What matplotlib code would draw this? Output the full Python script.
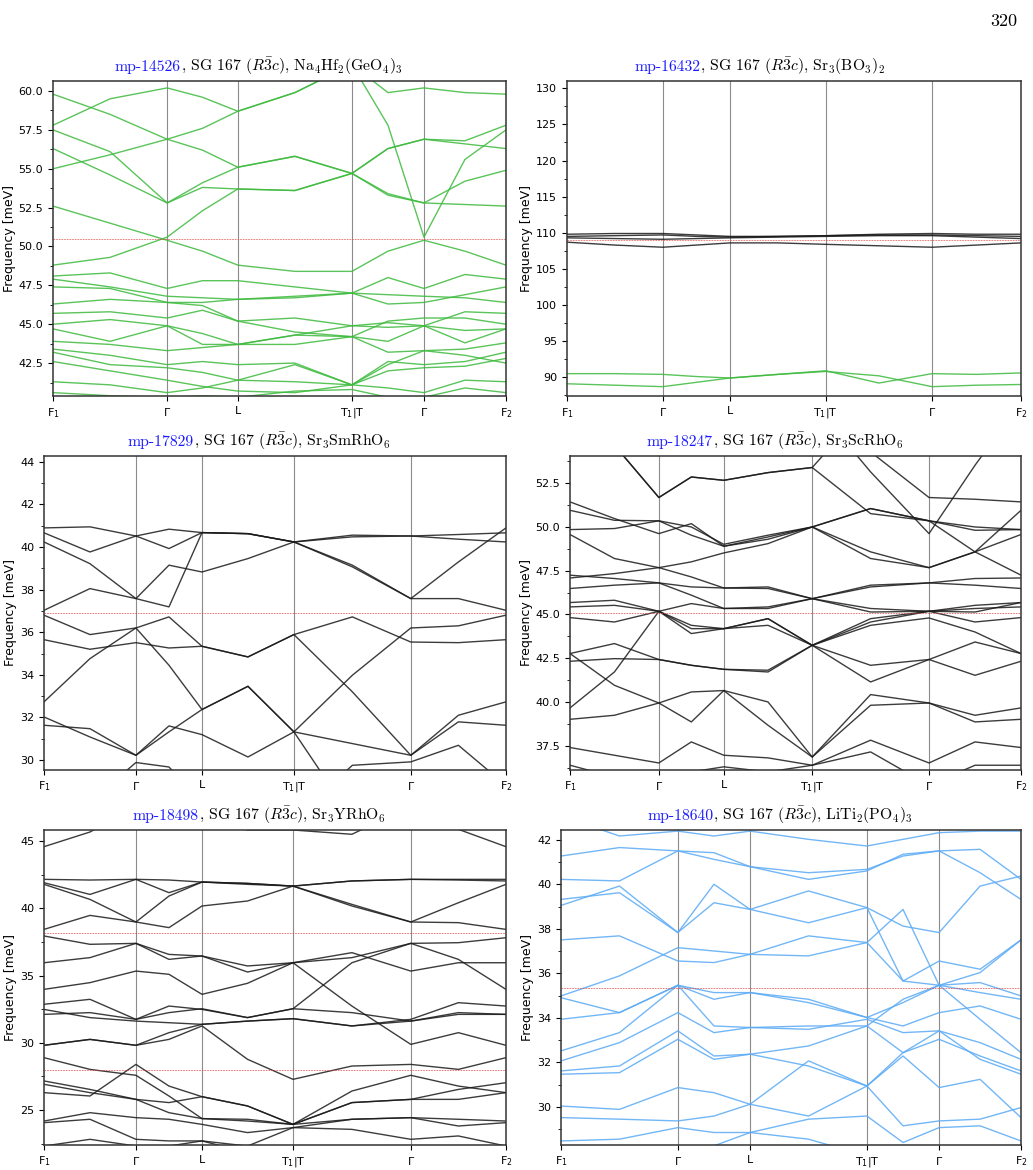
import matplotlib
matplotlib.use('Agg')
import matplotlib.pyplot as plt
from matplotlib.ticker import MultipleLocator, AutoMinorLocator
from matplotlib.offsetbox import TextArea, HPacker, AnchoredOffsetbox

# ---------------- data ----------------
tick_labels = [r'$\mathrm{F_1}$', r'$\Gamma$', 'L', r'$\mathrm{T_1|T}$', r'$\Gamma$', r'$\mathrm{F_2}$']

# high-symmetry positions (fraction of path) for each panel
hs1 = [0, 0.252, 0.408, 0.660, 0.819, 1]
hs2 = [0, 0.211, 0.359, 0.570, 0.804, 1]
hs3 = [0, 0.199, 0.342, 0.541, 0.794, 1]
hs4 = [0, 0.197, 0.341, 0.537, 0.796, 1]
hs5 = [0, 0.199, 0.342, 0.539, 0.794, 1]
hs6 = [0, 0.254, 0.411, 0.665, 0.822, 1]

# bands sampled at: F1, mid, G, mid, L, mid, T, mid, G, mid, F2
bands1 = [
    [57.8, 59.5, 60.2, 59.6, 58.7, 59.9, 61.7, 59.9, 60.2, 59.9, 59.8],
    [59.8, 58.5, 56.9, 57.6, 58.7, 59.9, 61.7, 57.8, 50.6, 55.6, 57.5],
    [57.5, 56.1, 52.8, 54.1, 55.1, 55.8, 54.7, 56.3, 56.9, 56.8, 57.8],
    [56.3, 54.6, 52.8, 53.8, 53.7, 53.6, 54.7, 53.3, 52.8, 52.7, 52.6],
    [55.0, 55.9, 56.9, 56.2, 55.1, 55.8, 54.7, 53.4, 52.8, 54.2, 54.9],
    [52.6, 51.5, 50.4, 49.7, 48.8, 48.4, 48.4, 49.7, 50.4, 49.7, 48.8],
    [48.8, 49.3, 50.6, 52.3, 53.7, 53.6, 54.7, 56.3, 56.9, 56.6, 56.3],
    [48.1, 48.3, 47.3, 47.8, 47.8, 47.4, 47.0, 48.0, 47.3, 48.2, 47.9],
    [47.9, 47.4, 46.8, 46.7, 46.6, 46.8, 47.0, 46.3, 46.4, 46.9, 47.4],
    [47.4, 47.3, 46.4, 46.4, 46.6, 46.7, 47.0, 46.9, 46.8, 46.7, 46.4],
    [46.3, 46.6, 46.4, 46.2, 45.2, 45.4, 44.9, 45.1, 44.9, 45.8, 45.7],
    [45.7, 45.8, 45.4, 45.9, 45.2, 44.5, 44.2, 45.2, 45.4, 45.4, 45.0],
    [45.0, 45.3, 44.9, 44.4, 43.7, 44.3, 44.9, 44.8, 44.9, 44.6, 44.7],
    [44.7, 43.9, 44.9, 43.7, 43.7, 44.3, 44.2, 43.9, 44.9, 43.8, 44.7],
    [43.9, 43.7, 43.3, 43.5, 43.7, 43.7, 44.2, 43.2, 43.3, 43.4, 43.8],
    [43.4, 43.0, 42.4, 42.6, 42.4, 42.5, 41.1, 42.6, 42.4, 42.6, 43.2],
    [43.2, 42.4, 42.2, 41.9, 41.4, 41.3, 41.1, 42.0, 42.2, 42.3, 42.8],
    [42.6, 42.0, 41.4, 41.0, 40.7, 40.6, 41.1, 42.4, 43.3, 43.0, 42.5],
    [41.3, 41.1, 40.6, 40.9, 41.4, 42.4, 41.1, 40.9, 40.6, 41.4, 41.3],
    [40.6, 40.4, 40.3, 40.4, 40.3, 40.7, 40.8, 40.3, 40.3, 40.9, 40.6],
]

bands2_dark = [
    [109.8, 109.9, 109.9, 109.7, 109.5, 109.5, 109.6, 109.8, 109.9, 109.8, 109.8],
    [109.5, 109.6, 109.7, 109.5, 109.4, 109.5, 109.6, 109.7, 109.7, 109.6, 109.5],
    [109.3, 109.2, 109.1, 109.2, 109.3, 109.4, 109.5, 109.6, 109.6, 109.4, 109.2],
    [108.7, 108.3, 108.0, 108.3, 108.6, 108.6, 108.4, 108.2, 108.0, 108.3, 108.6],
]
bands2_green = [
    [90.5, 90.5, 90.4, 90.1, 89.9, 90.4, 90.9, 89.2, 90.5, 90.4, 90.6],
    [89.1, 88.9, 88.7, 89.3, 89.9, 90.4, 90.8, 90.2, 88.7, 88.9, 89.0],
]

bands3 = [
    [40.90, 40.95, 40.52, 40.84, 40.68, 40.63, 40.24, 40.56, 40.52, 40.59, 40.67],
    [40.67, 39.77, 40.52, 39.93, 40.68, 40.63, 40.24, 39.07, 37.58, 39.30, 40.90],
    [40.24, 39.22, 37.58, 39.15, 38.83, 39.46, 40.24, 40.48, 40.52, 40.37, 40.24],
    [37.03, 38.05, 37.58, 37.19, 40.68, 40.63, 40.24, 39.15, 37.58, 37.58, 37.03],
    [36.80, 35.89, 36.20, 36.72, 35.34, 34.84, 35.89, 36.72, 35.54, 35.51, 35.65],
    [35.65, 35.20, 35.51, 35.26, 35.34, 34.84, 35.89, 33.20, 30.22, 32.10, 32.73],
    [32.73, 34.76, 36.20, 34.45, 32.37, 33.46, 31.32, 33.98, 36.20, 36.30, 36.80],
    [32.02, 31.08, 30.22, 31.32, 32.37, 33.46, 31.32, 27.24, 27.24, 27.24, 27.24],
    [31.63, 31.47, 30.22, 31.60, 31.19, 30.14, 31.32, 30.77, 30.22, 31.79, 31.63],
    [27.24, 28.03, 29.88, 29.67, 28.03, 27.24, 27.24, 29.75, 29.91, 30.69, 28.81],
]

bands4 = [
    [57.1, 54.65, 51.67, 52.84, 52.65, 53.09, 53.38, 57.1, 57.1, 57.1, 57.1],
    [57.1, 54.65, 51.67, 52.84, 52.65, 53.09, 53.38, 50.75, 50.34, 49.99, 49.84],
    [57.1, 57.1, 57.1, 57.1, 57.1, 57.1, 57.1, 54.27, 51.67, 51.57, 51.42],
    [57.1, 57.1, 57.1, 57.1, 57.1, 57.1, 57.1, 53.13, 49.61, 53.51, 57.1],
    [51.42, 50.47, 49.61, 50.18, 48.89, 49.42, 49.99, 51.04, 50.34, 48.57, 47.24],
    [50.94, 50.37, 50.34, 49.99, 49.00, 49.52, 49.99, 48.57, 47.67, 48.57, 50.94],
    [49.84, 49.90, 50.34, 49.52, 48.89, 49.29, 49.99, 51.04, 50.34, 49.80, 49.84],
    [49.56, 48.19, 47.67, 48.00, 48.51, 49.04, 49.99, 48.19, 47.67, 48.57, 49.56],
    [47.24, 47.05, 46.80, 46.57, 46.51, 46.57, 45.90, 46.57, 46.80, 46.67, 46.48],
    [47.08, 47.33, 47.67, 47.14, 46.51, 46.48, 45.90, 45.34, 45.18, 45.52, 45.68],
    [46.48, 46.67, 46.80, 46.10, 45.34, 45.43, 45.90, 46.67, 46.80, 47.05, 47.08],
    [45.68, 45.81, 45.18, 45.62, 45.34, 45.34, 45.90, 45.14, 45.18, 45.34, 45.43],
    [45.43, 45.52, 45.18, 44.38, 44.19, 44.76, 43.24, 44.76, 45.18, 44.57, 44.82],
    [44.82, 44.57, 45.18, 44.19, 44.19, 44.38, 43.24, 44.38, 44.80, 44.00, 42.77],
    [42.33, 42.48, 42.43, 42.10, 41.87, 41.72, 43.24, 41.15, 42.43, 41.53, 42.33],
    [42.77, 40.96, 39.95, 40.58, 40.66, 38.68, 36.87, 40.43, 39.95, 39.25, 39.67],
    [39.67, 41.72, 45.18, 43.91, 44.19, 44.76, 43.24, 44.57, 45.18, 45.14, 45.68],
    [39.02, 39.25, 39.95, 38.87, 40.66, 40.01, 36.87, 39.82, 39.95, 38.87, 39.02],
    [37.41, 36.97, 36.53, 37.73, 36.97, 36.82, 36.40, 37.83, 36.53, 37.73, 37.41],
    [36.40, 35.73, 35.26, 36.02, 36.31, 36.02, 36.40, 37.16, 35.26, 36.40, 36.40],
    [42.77, 43.34, 42.43, 42.10, 41.87, 41.82, 43.24, 42.10, 42.43, 43.43, 42.77],
]

bands5 = [
    [44.58, 45.67, 47.6, 47.6, 46.86, 45.82, 45.82, 45.50, 47.6, 45.87, 44.58],
    [42.15, 42.10, 42.15, 42.10, 41.95, 41.85, 41.65, 42.03, 42.15, 42.15, 42.15],
    [41.90, 41.03, 42.15, 41.16, 41.95, 41.85, 41.65, 40.29, 38.98, 40.41, 41.78],
    [41.78, 40.66, 38.98, 40.91, 41.95, 41.78, 41.65, 40.17, 38.98, 38.93, 38.43],
    [38.43, 39.47, 38.98, 38.56, 40.17, 40.54, 41.65, 42.03, 42.15, 42.10, 42.03],
    [37.94, 37.32, 37.39, 36.20, 36.45, 35.26, 35.95, 36.70, 35.33, 35.95, 35.95],
    [35.95, 36.33, 37.39, 36.57, 36.45, 35.71, 35.95, 32.73, 29.88, 30.75, 29.81],
    [33.97, 34.47, 35.33, 35.09, 33.60, 34.42, 35.95, 36.33, 37.39, 37.44, 37.81],
    [32.86, 33.23, 31.74, 32.73, 32.48, 31.87, 32.53, 35.95, 37.39, 36.20, 33.97],
    [32.48, 31.87, 31.61, 31.49, 31.37, 31.61, 31.79, 31.25, 31.74, 32.98, 32.73],
    [32.11, 32.24, 31.74, 32.24, 32.53, 31.87, 32.53, 32.24, 31.61, 32.11, 32.11],
    [29.81, 30.25, 29.81, 30.75, 31.37, 31.61, 31.79, 31.25, 31.61, 32.24, 32.11],
    [28.89, 28.02, 27.58, 26.04, 24.36, 24.31, 23.93, 25.55, 25.79, 26.53, 27.03],
    [27.16, 26.53, 25.79, 24.80, 24.36, 24.18, 23.93, 26.41, 27.58, 26.78, 26.29],
    [26.91, 26.29, 25.79, 25.55, 25.99, 25.30, 23.93, 25.55, 25.79, 25.79, 26.29],
    [26.29, 26.04, 28.39, 26.78, 25.99, 25.30, 23.93, 24.31, 24.43, 24.31, 24.18],
    [24.18, 24.80, 24.43, 24.31, 23.93, 23.32, 23.69, 24.31, 24.43, 23.81, 24.06],
    [24.06, 24.31, 22.82, 22.70, 22.70, 22.32, 23.69, 23.56, 22.82, 23.07, 22.32],
    [22.32, 22.82, 22.32, 22.32, 22.70, 21.83, 21.33, 22.32, 21.33, 22.32, 22.32],
    [29.81, 30.25, 29.81, 30.25, 31.25, 28.77, 27.28, 28.27, 28.39, 28.02, 28.89],
]

bands6 = [
    [43.08, 42.18, 42.40, 42.18, 42.40, 42.03, 41.73, 42.03, 42.33, 42.40, 42.40],
    [41.28, 41.66, 41.51, 41.43, 40.80, 40.23, 40.61, 41.36, 41.51, 41.58, 40.23],
    [40.23, 40.16, 41.51, 41.13, 40.80, 40.53, 40.68, 41.28, 41.51, 40.53, 39.33],
    [39.06, 39.93, 37.84, 40.01, 38.88, 39.71, 38.96, 38.13, 37.84, 39.93, 40.38],
    [39.33, 39.63, 37.84, 39.18, 38.88, 38.28, 38.96, 35.66, 35.47, 36.04, 37.51],
    [37.51, 37.69, 36.56, 36.49, 36.86, 37.69, 37.39, 35.66, 36.56, 36.19, 37.51],
    [34.99, 35.89, 37.16, 37.01, 36.86, 36.79, 37.39, 38.88, 35.47, 35.59, 34.99],
    [34.91, 34.24, 35.47, 35.14, 35.14, 34.69, 34.02, 34.69, 35.47, 35.14, 34.84],
    [33.94, 34.24, 35.47, 34.84, 35.14, 34.84, 34.02, 33.64, 34.24, 34.54, 33.94],
    [32.52, 33.34, 35.47, 33.64, 33.57, 33.64, 33.64, 34.84, 35.47, 33.94, 32.44],
    [32.07, 32.89, 34.24, 33.34, 33.57, 33.49, 33.94, 33.34, 33.42, 32.89, 32.14],
    [31.62, 31.84, 33.42, 32.29, 32.37, 32.74, 33.64, 32.44, 33.04, 32.29, 31.62],
    [31.47, 31.54, 33.04, 32.14, 32.37, 31.84, 30.94, 32.44, 33.42, 32.14, 31.47],
    [30.04, 29.89, 30.87, 30.64, 30.12, 32.07, 30.94, 29.15, 29.37, 29.45, 29.97],
    [29.52, 29.45, 29.37, 29.59, 30.12, 29.59, 30.94, 32.29, 30.87, 31.24, 29.52],
    [28.47, 28.55, 29.07, 28.85, 28.85, 29.45, 29.59, 28.40, 29.07, 29.15, 28.47],
    [28.25, 28.25, 28.25, 28.25, 28.85, 28.55, 27.80, 27.65, 28.25, 28.25, 28.25],
]

titles_id = ['mp-14526', 'mp-16432', 'mp-17829', 'mp-18247', 'mp-18498', 'mp-18640']
titles_rest = [
    r', SG 167 ($R\bar{3}c$), Na$_4$Hf$_2$(GeO$_4$)$_3$',
    r', SG 167 ($R\bar{3}c$), Sr$_3$(BO$_3$)$_2$',
    r', SG 167 ($R\bar{3}c$), Sr$_3$SmRhO$_6$',
    r', SG 167 ($R\bar{3}c$), Sr$_3$ScRhO$_6$',
    r', SG 167 ($R\bar{3}c$), Sr$_3$YRhO$_6$',
    r', SG 167 ($R\bar{3}c$), LiTi$_2$(PO$_4$)$_3$',
]
ylims = [(40.38, 60.64), (87.4, 131.0), (29.53, 44.28), (36.13, 54.04), (22.4, 45.82), (28.29, 42.45)]
ysteps = [2.5, 5, 2, 2.5, 5, 2]
ref_lines = [[50.48], [109.0], [36.89], [45.08], [38.18, 27.97], [35.35]]

# ---------------- figure ----------------
W, H = 1033, 1170
fig = plt.figure(figsize=(W / 100, H / 100), dpi=100)
rects = [
    (0.0513, 0.6615, 0.4385, 0.2692),
    (0.5489, 0.6615, 0.4395, 0.2692),
    (0.0426, 0.3419, 0.4472, 0.2684),
    (0.5518, 0.3419, 0.4366, 0.2684),
    (0.0426, 0.0214, 0.4472, 0.2692),
    (0.5431, 0.0214, 0.4453, 0.2692),
]
title_cx = [258.5, 760, 259, 775, 259, 780]

GREEN = '#3dba3d'
DARK = '#1a1a1a'
BLUE = '#5aaaf5'

panels = [
    (hs1, [(bands1, GREEN)]),
    (hs2, [(bands2_dark, DARK), (bands2_green, GREEN)]),
    (hs3, [(bands3, DARK)]),
    (hs4, [(bands4, DARK)]),
    (hs5, [(bands5, DARK)]),
    (hs6, [(bands6, BLUE)]),
]

for i, (rect, (hs, groups)) in enumerate(zip(rects, panels)):
    ax = fig.add_axes(rect)
    xs = []
    for j in range(5):
        xs.append(hs[j])
        xs.append(0.5 * (hs[j] + hs[j + 1]))
    xs.append(hs[5])
    for bands, col in groups:
        for b in bands:
            ax.plot(xs, b, color=col, lw=1.0, alpha=0.85, solid_joinstyle='round')
    for xv in hs[1:-1]:
        ax.axvline(xv, color='#8c8c8c', lw=0.8, zorder=0)
    for r in ref_lines[i]:
        ax.axhline(r, color='#e04040', lw=0.6, ls=(0, (2, 1.2)), alpha=0.8)
    ax.set_xlim(0, 1)
    ax.set_ylim(*ylims[i])
    ax.set_xticks(hs)
    ax.set_xticklabels(tick_labels, fontsize=8, math_fontfamily='dejavusans')
    ax.yaxis.set_major_locator(MultipleLocator(ysteps[i]))
    ax.yaxis.set_minor_locator(AutoMinorLocator(2))
    ax.tick_params(axis='both', labelsize=8, length=3.5, width=0.8)
    ax.tick_params(axis='y', which='minor', length=2)
    ax.set_ylabel('Frequency [meV]', fontsize=9, labelpad=2)
    for s in ax.spines.values():
        s.set_linewidth(1.1)
        s.set_color('#333333')
    ta1 = TextArea(titles_id[i], textprops=dict(color='#1a1aff', fontsize=11.3,
                                                 fontfamily='cmr10', math_fontfamily='cm'))
    ta2 = TextArea(titles_rest[i], textprops=dict(color='black', fontsize=11.3,
                                                   fontfamily='cmr10', math_fontfamily='cm'))
    box = HPacker(children=[ta1, ta2], align='baseline', pad=0, sep=0)
    anchored = AnchoredOffsetbox(loc='lower center', child=box, pad=0.0, frameon=False,
                                 bbox_to_anchor=(title_cx[i] / W, rect[1] + rect[3] + 0.0035),
                                 bbox_transform=fig.transFigure, borderpad=0.0)
    fig.add_artist(anchored)

fig.text(0.985, 0.988, '320', ha='right', va='top', fontsize=13, fontfamily='cmr10')

fig.savefig('out.png', dpi=100)
